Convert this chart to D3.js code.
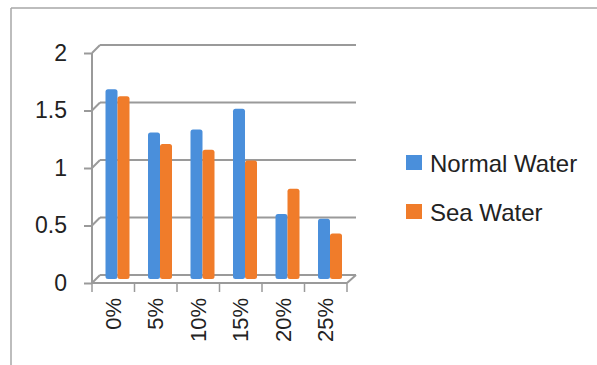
<!DOCTYPE html>
<html>
<head>
<meta charset="utf-8">
<script src="https://cdn.jsdelivr.net/npm/d3@7"></script>
<style>
  body { margin: 0; background: #fff; }
  svg text { font-family: "Liberation Sans", Arial, sans-serif; fill: #222; }
</style>
</head>
<body>
<div id="chart"></div>
<script>
const categories = ["0%", "5%", "10%", "15%", "20%", "25%"];
const series = ["Normal Water", "Sea Water"];
const normalWater = [1.65, 1.275, 1.3, 1.48, 0.565, 0.525];
const seaWater = [1.59, 1.175, 1.125, 1.03, 0.785, 0.395];
const yTicks = [0, 0.5, 1, 1.5, 2];
const colors = ["#4a8fdb", "#f07c2a"];

const W = 597, H = 365;
const svg = d3.select("#chart").append("svg").attr("width", W).attr("height", H);

// outer frame (top + left edge only visible)
svg.append("path").attr("d", "M11,8H597M11,8V365").attr("fill", "none").attr("stroke", "#a8a8a8").attr("stroke-width", 1.5);

const pLeft = 92, pRight = 347, pTop = 53, pBottom = 283;
const dx = 8, dy = -8; // depth offset of the back wall

const y = d3.scaleLinear().domain([0, 2]).range([pBottom, pTop]);
const x = d3.scaleBand().domain(categories).range([pLeft, pRight]);
const x1 = d3.scaleBand().domain(series).range([9.5, 33.5]);

const grid = svg.append("g").attr("stroke", "#9a9a9a").attr("stroke-width", 2).attr("fill", "none");
// back gridlines
grid.selectAll("line.back").data(yTicks).join("line").attr("class", "back")
  .attr("x1", pLeft + dx).attr("x2", pRight + dx + 1)
  .attr("y1", (d) => y(d) + dy).attr("y2", (d) => y(d) + dy);
// diagonals from front axis to back wall
grid.selectAll("line.diag").data(yTicks).join("line").attr("class", "diag")
  .attr("x1", pLeft).attr("y1", (d) => y(d))
  .attr("x2", pLeft + dx).attr("y2", (d) => y(d) + dy);
// floor front edge and right diagonal
grid.append("line").attr("x1", pLeft).attr("x2", pRight).attr("y1", pBottom).attr("y2", pBottom);
grid.append("line").attr("x1", pRight).attr("y1", pBottom).attr("x2", pRight + dx + 1).attr("y2", pBottom + dy);

// y axis
const yAxis = svg.append("g").attr("transform", `translate(${pLeft},0)`)
  .call(d3.axisLeft(y).tickValues(yTicks).tickFormat(d3.format("")).tickSize(8).tickPadding(17));
yAxis.select(".domain").attr("stroke", "#9a9a9a").attr("stroke-width", 2).attr("d", `M0,${pTop}V${pBottom}`);
yAxis.selectAll(".tick line").attr("stroke", "#9a9a9a").attr("stroke-width", 2);
yAxis.selectAll("text").attr("font-size", 23).attr("fill", "#222").attr("font-family", "Liberation Sans, Arial, sans-serif");

// x axis
const xAxis = svg.append("g").attr("transform", `translate(0,${pBottom})`)
  .call(d3.axisBottom(x).tickSize(0).tickPadding(0));
xAxis.select(".domain").remove();
xAxis.selectAll(".tick text")
  .attr("font-size", 22).attr("fill", "#222").attr("font-family", "Liberation Sans, Arial, sans-serif")
  .attr("transform", "rotate(-90)")
  .attr("text-anchor", "end").attr("dy", "0.35em").attr("x", -15).attr("y", 0);
svg.append("g").selectAll("line").data(d3.range(categories.length + 1)).join("line")
  .attr("x1", (i) => pLeft + i * x.bandwidth()).attr("x2", (i) => pLeft + i * x.bandwidth())
  .attr("y1", pBottom).attr("y2", pBottom + 9)
  .attr("stroke", "#9a9a9a").attr("stroke-width", 1.5);

// bars sit at mid depth
const yb = (v) => y(v) + dy / 2;
const data = categories.map((c, i) => ({ cat: c, vals: [normalWater[i], seaWater[i]] }));
const groups = svg.append("g").selectAll("g").data(data).join("g")
  .attr("transform", (d) => `translate(${x(d.cat) + dx / 2},0)`);
groups.selectAll("rect").data((d) => d.vals.map((v, i) => ({ s: series[i], v, i }))).join("rect")
  .attr("x", (d) => x1(d.s))
  .attr("width", x1.bandwidth())
  .attr("y", (d) => yb(d.v))
  .attr("height", (d) => yb(0) - yb(d.v))
  .attr("rx", 2.5)
  .attr("fill", (d) => colors[d.i]);

// legend
const legend = svg.append("g").attr("transform", "translate(406,155)");
const li = legend.selectAll("g").data(series).join("g").attr("transform", (d, i) => `translate(0,${i * 49})`);
li.append("rect").attr("width", 16).attr("height", 15).attr("fill", (d, i) => colors[i]);
li.append("text").attr("x", 24).attr("y", 16.5).attr("font-size", 24).text((d) => d);
</script>
</body>
</html>
